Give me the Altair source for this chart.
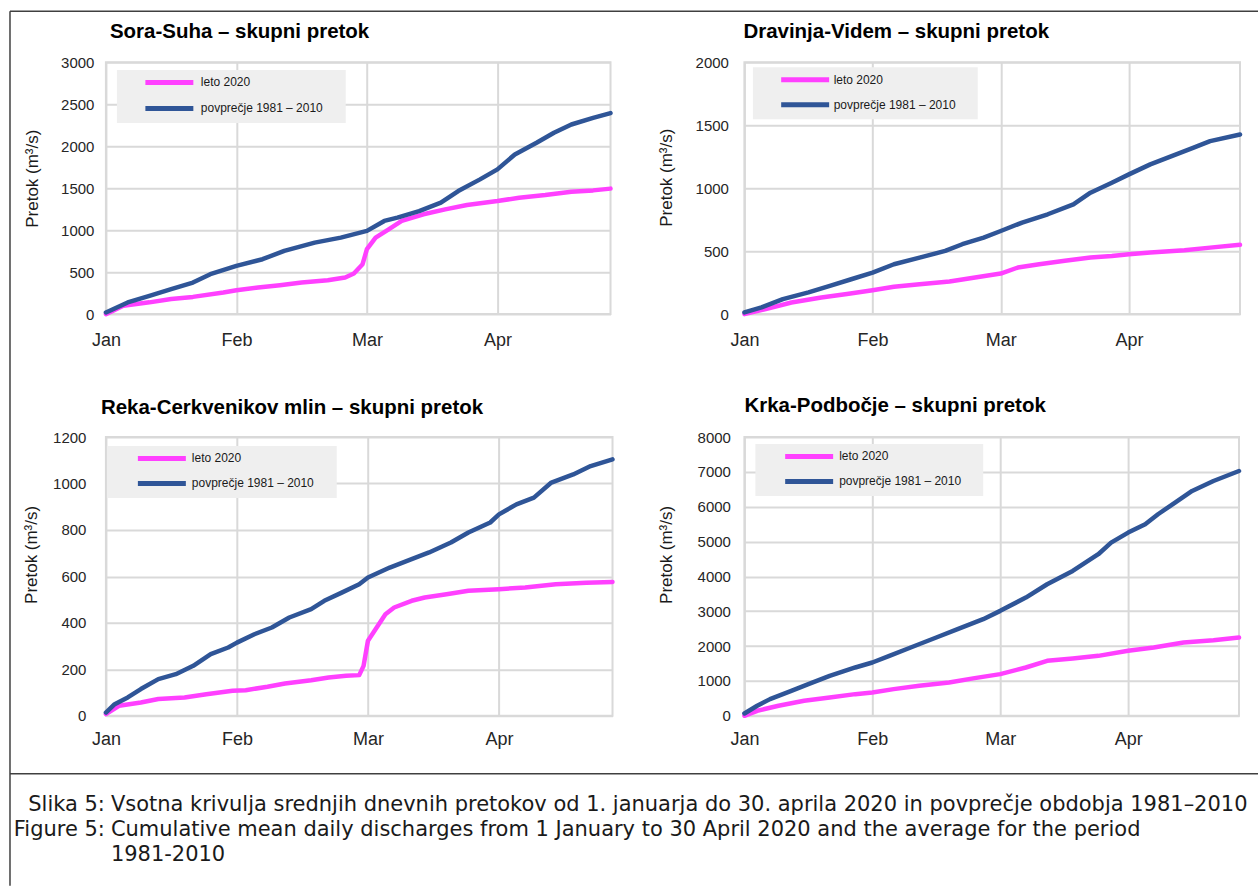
import altair as alt
import pandas as pd

# ---------------- data ----------------
MONTHS = ["Jan", "Feb", "Mar", "Apr"]
MONTH_DAYS = [0, 30, 60, 90]
SERIES = ["leto 2020", "povprečje 1981 – 2010"]
COLORS = ["#ff40ff", "#2f5597"]
TITLES = [
    "Sora-Suha – skupni pretok",
    "Dravinja-Videm – skupni pretok",
    "Reka-Cerkvenikov mlin – skupni pretok",
    "Krka-Podbočje – skupni pretok",
]
Y_TITLE = "Pretok (m³/s)"

# Sora-Suha
sora_days_2020 = [0, 4, 10, 15, 20, 27, 30, 35, 40, 45, 51, 55, 57, 59, 60, 62, 65, 68, 73, 78, 83, 90, 95, 101, 107, 112, 116]
sora_vals_2020 = [0, 100, 140, 180, 205, 258, 285, 317, 345, 376, 404, 436, 483, 594, 773, 911, 1010, 1110, 1189, 1248, 1300, 1347, 1387, 1419, 1458, 1474, 1495]
sora_days_avg = [0, 5, 10, 15, 20, 24, 30, 36, 41, 48, 54, 60, 64, 67, 72, 77, 81, 86, 90, 94, 99, 103, 107, 112, 116]
sora_vals_avg = [20, 139, 218, 297, 376, 476, 575, 654, 753, 852, 911, 991, 1110, 1149, 1228, 1328, 1466, 1605, 1724, 1902, 2041, 2160, 2259, 2338, 2395]

# Dravinja-Videm
drav_days_2020 = [0, 5, 11, 18, 24, 30, 35, 41, 48, 54, 60, 64, 69, 75, 81, 86, 90, 95, 103, 109, 116]
drav_vals_2020 = [0, 40, 92, 132, 159, 190, 217, 238, 259, 291, 322, 370, 396, 423, 449, 462, 476, 489, 507, 528, 550]
drav_days_avg = [0, 4, 9, 15, 20, 25, 30, 35, 41, 47, 51, 56, 60, 65, 71, 77, 81, 86, 90, 95, 100, 105, 109, 116]
drav_vals_avg = [13, 53, 119, 172, 225, 277, 330, 396, 449, 502, 555, 608, 660, 727, 793, 872, 964, 1044, 1110, 1189, 1255, 1321, 1374, 1427]

# Reka-Cerkvenikov mlin
reka_days_2020 = [0, 3, 8, 12, 18, 23, 29, 32, 37, 41, 47, 51, 55, 58, 59, 60, 62, 64, 66, 70, 73, 78, 83, 90, 96, 103, 110, 116]
reka_vals_2020 = [7, 43, 57, 72, 79, 93, 108, 110, 125, 139, 153, 165, 172, 175, 215, 323, 380, 437, 466, 495, 509, 523, 538, 545, 552, 566, 573, 576]
reka_days_avg = [0, 2, 5, 8, 12, 16, 20, 24, 28, 30, 34, 38, 42, 47, 50, 54, 58, 60, 65, 70, 74, 79, 83, 88, 90, 94, 98, 102, 107, 111, 116]
reka_vals_avg = [14, 50, 79, 115, 158, 179, 215, 265, 294, 315, 351, 380, 423, 459, 495, 530, 566, 595, 638, 674, 703, 746, 789, 832, 867, 910, 939, 1004, 1039, 1075, 1104]

# Krka-Podbočje
krka_days_2020 = [0, 3, 8, 14, 20, 26, 30, 35, 41, 48, 54, 60, 66, 71, 77, 83, 90, 96, 103, 110, 116]
krka_vals_2020 = [0, 143, 287, 430, 526, 621, 669, 765, 860, 956, 1080, 1195, 1386, 1577, 1644, 1720, 1864, 1959, 2103, 2170, 2246]
krka_days_avg = [0, 3, 6, 11, 15, 20, 26, 30, 34, 39, 45, 50, 56, 60, 66, 71, 77, 83, 86, 90, 94, 97, 101, 105, 110, 116]
krka_vals_avg = [67, 287, 478, 717, 908, 1147, 1386, 1529, 1720, 1959, 2246, 2485, 2772, 3011, 3393, 3775, 4158, 4636, 4970, 5257, 5496, 5783, 6117, 6452, 6738, 7025]

CAP_LABELS = ["Slika 5:", "Figure 5:", ""]
CAP_TEXTS = [
    "Vsotna krivulja srednjih dnevnih pretokov od 1. januarja do 30. aprila 2020 in povprečje obdobja 1981–2010",
    "Cumulative mean daily discharges from 1 January to 30 April 2020 and the average for the period",
    "1981-2010",
]

# ---------------- styling ----------------
FONT = "Liberation Sans, Arial, sans-serif"
CAP_FONT = "DejaVu Sans, Verdana, sans-serif"
BORDER = "#404040"
X_MAX = 116
BLANK = "\u2800"  # invisible blank glyph, only widens the legend's grey box

month_expr = "[" + ",".join("'%s'" % m for m in MONTHS) + "][round(datum.value/30)]"


def one():
    return alt.Data(values=[{"k": 1}])


def hrule(x0, x1, y):
    return alt.Chart(one()).mark_rule(color=BORDER, strokeWidth=1.5).encode(
        x=alt.value(x0), x2=alt.value(x1), y=alt.value(y))


def vrule(x, y0, y1):
    return alt.Chart(one()).mark_rule(color=BORDER, strokeWidth=1.5).encode(
        x=alt.value(x), y=alt.value(y0), y2=alt.value(y1))


def panel(d20, v20, davg, vavg, ymax, ystep, title, g, extra=()):
    df = pd.DataFrame(
        {"day": d20 + davg,
         "value": v20 + vavg,
         "series": [SERIES[0]] * len(d20) + [SERIES[1]] * len(davg)}
    )
    pad_expr = "datum.label + '" + BLANK * g["sp"] + "'"
    lines = alt.Chart(df).mark_line(
        strokeWidth=4.5, strokeCap="round", strokeJoin="round"
    ).encode(
        x=alt.X("day:Q", scale=alt.Scale(domain=[0, X_MAX], nice=False, zero=False),
                axis=alt.Axis(values=MONTH_DAYS, labelExpr=month_expr, title=None,
                              labelFontSize=18, labelPadding=g["xpad"], labelFont=FONT,
                              labelFlush=False)),
        y=alt.Y("value:Q", scale=alt.Scale(domain=[0, ymax], nice=False),
                axis=alt.Axis(values=list(range(0, ymax + 1, ystep)), format="d",
                              title=Y_TITLE,
                              titleX=g["tx"], titleY=g["ty"], titleAngle=270,
                              titleAlign="center", titleBaseline="bottom",
                              titleFontSize=17, titleFont=FONT, titleFontWeight="normal",
                              labelFontSize=15, labelPadding=g["ypad"], labelFont=FONT)),
        color=alt.Color("series:N", scale=alt.Scale(domain=SERIES, range=COLORS),
                        legend=alt.Legend(title=None, orient="none",
                                          legendX=g["lx"], legendY=g["ly"],
                                          fillColor="#efefef", padding=4,
                                          symbolType="M-4,0H4", symbolSize=144,
                                          symbolStrokeWidth=5, symbolOffset=g["so"],
                                          labelOffset=g["lo"], rowPadding=g["rp"],
                                          labelFontSize=12, labelFont=FONT,
                                          labelExpr=pad_expr,
                                          labelColor="#1a1a1a", labelLimit=0)),
    )
    ttl = alt.Chart(alt.Data(values=[{"t": title}])).mark_text(
        align="left", baseline="alphabetic", font=FONT, fontSize=20.5,
        fontWeight="bold", color="black"
    ).encode(x=alt.value(g["hx"]), y=alt.value(g["hy"]), text="t:N")
    layers = list(extra) + [ttl, lines]
    return alt.layer(*layers).properties(width=g["w"], height=g["h"])


# plot origins: p1/p3 at x=105, p2/p4 at x=744; rows at y=61 and y=436
P1 = (105, 61)
P3 = (105, 436)

frame_p1 = [
    hrule(9 - P1[0], 1258 - P1[0], 10 - P1[1]),     # top border
    vrule(9 - P1[0], 10 - P1[1], 885 - P1[1]),      # left border
]

cap_layers = [hrule(9 - P3[0], 1258 - P3[0], 773 - P3[1])]  # separator
CAP_Y = [804, 829, 854]
for lab, txt, yy in zip(CAP_LABELS, CAP_TEXTS, CAP_Y):
    d = alt.Data(values=[{"lab": lab, "txt": txt}])
    if lab:
        cap_layers.append(alt.Chart(d).mark_text(
            align="right", baseline="middle", font=CAP_FONT, fontSize=21, color="#1a1a1a"
        ).encode(x=alt.value(104 - P3[0]), y=alt.value(yy - P3[1]), text="lab:N"))
    cap_layers.append(alt.Chart(d).mark_text(
        align="left", baseline="middle", font=CAP_FONT, fontSize=21, color="#1a1a1a"
    ).encode(x=alt.value(110 - P3[0]), y=alt.value(yy - P3[1]), text="txt:N"))

p1 = panel(sora_days_2020, sora_vals_2020, sora_days_avg, sora_vals_avg, 3000, 500, TITLES[0],
           dict(w=505, h=252, tx=-64, ty=116, xpad=17, ypad=12,
                lx=11, ly=7.7, so=40, lo=23, rp=5, sp=2, hx=4, hy=-24), extra=frame_p1)
p2 = panel(drav_days_2020, drav_vals_2020, drav_days_avg, drav_vals_avg, 2000, 500, TITLES[1],
           dict(w=496, h=252, tx=-69, ty=115, xpad=17, ypad=16,
                lx=8.5, ly=5, so=39.8, lo=20, rp=4, sp=2, hx=-1, hy=-24))
p3 = panel(reka_days_2020, reka_vals_2020, reka_days_avg, reka_vals_avg, 1200, 200, TITLES[2],
           dict(w=507, h=279, tx=-65, ty=117.5, xpad=15, ypad=20,
                lx=1, ly=9, so=42.5, lo=21.5, rp=4, sp=2, hx=-5, hy=-23), extra=cap_layers)
p4 = panel(krka_days_2020, krka_vals_2020, krka_days_avg, krka_vals_avg, 8000, 1000, TITLES[3],
           dict(w=495, h=279, tx=-69, ty=117.5, xpad=15, ypad=14,
                lx=11, ly=7, so=41.3, lo=21.5, rp=4, sp=2, hx=0, hy=-25))

chart = alt.concat(
    p1, p2, p3, p4, columns=2, spacing={"row": 123, "column": 132}, bounds="flush"
).resolve_scale(color="independent").resolve_legend(color="independent").properties(
    padding={"left": 8, "top": 9, "right": 0, "bottom": 0}
).configure(background="white").configure_view(
    stroke="#d9d9d9", strokeWidth=2
).configure_axis(
    gridColor="#d9d9d9", gridWidth=2, domain=False, ticks=False, tickSize=0,
    labelColor="#262626", titleColor="#1a1a1a"
)

chart.save("out.html", embed_options={"renderer": "svg", "actions": False})
